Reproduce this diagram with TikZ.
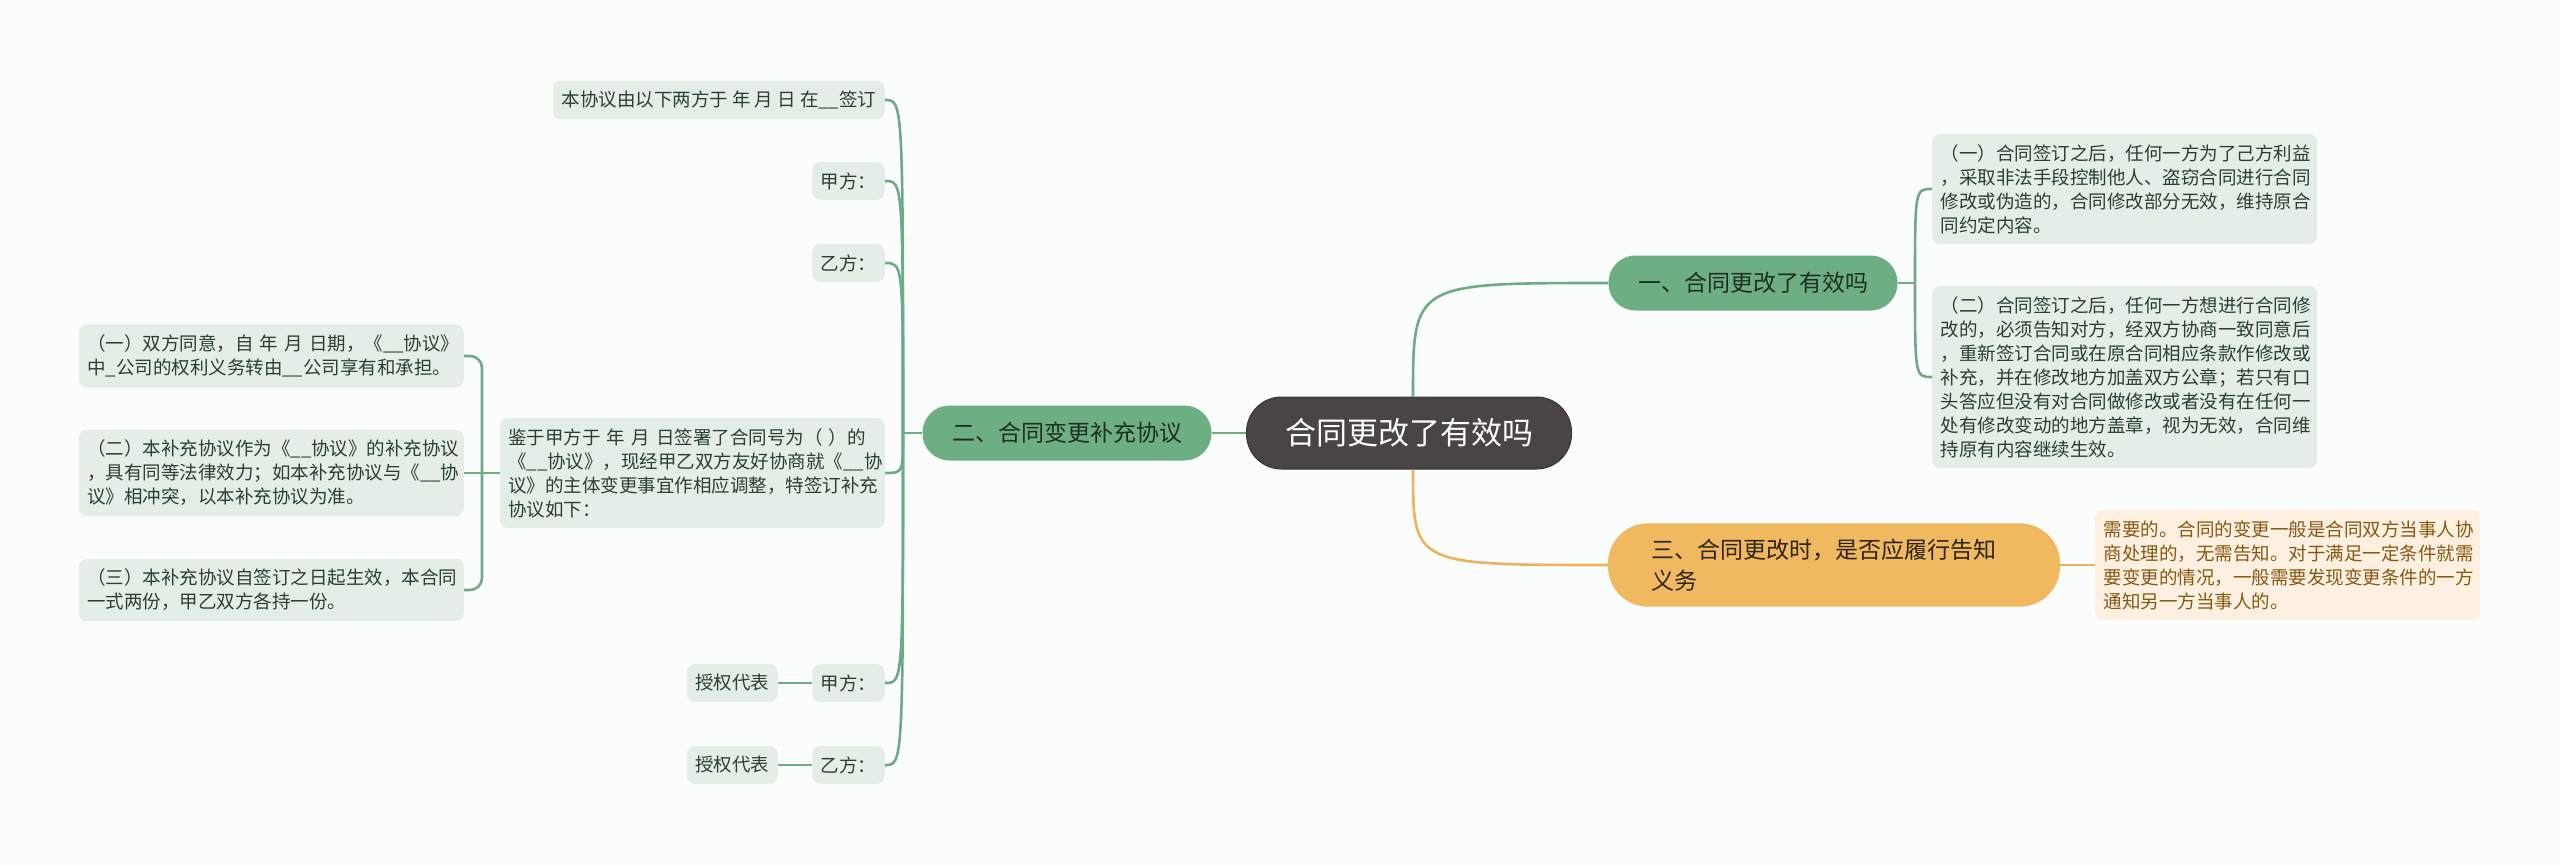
\documentclass[tikz,border=0pt]{standalone}
\usepackage{fontspec}
\setmainfont{Noto Sans CJK SC}
\usetikzlibrary{calc}
\definecolor{bg}{HTML}{FBFDFD}
\definecolor{glinec}{HTML}{6EAA84}
\definecolor{gfill}{HTML}{6DAE83}
\definecolor{leaf}{HTML}{E4EEE7}
\definecolor{leaftext}{HTML}{2A3F30}
\definecolor{rootfill}{HTML}{4A4544}
\definecolor{rootdraw}{HTML}{3A3534}
\definecolor{ofill}{HTML}{F0B95F}
\definecolor{olinec}{HTML}{EBB35B}
\definecolor{oleaf}{HTML}{FDF0E1}
\definecolor{oleaftext}{HTML}{875812}
\definecolor{btext}{HTML}{1E2E23}
\definecolor{obtext}{HTML}{2B2416}
\tikzset{
  leafbox/.style={fill=leaf, text=leaftext, rounded corners=8pt, inner xsep=8.5pt, inner ysep=10.3pt, font=\fontsize{18.5}{24}\selectfont, align=left},
  wideleaf/.style={leafbox, text width=368pt},
  oleafbox/.style={fill=oleaf, text=oleaftext, rounded corners=8pt, inner xsep=8.5pt, inner ysep=10.3pt, font=\fontsize{18.5}{24}\selectfont, align=left, text width=368pt},
  rootbox/.style={fill=rootfill, draw=rootdraw, line width=1pt, text=white, rounded corners=35pt, minimum width=325pt, minimum height=72pt, inner sep=0pt, font=\fontsize{31}{36}\selectfont},
  gbranch/.style={fill=gfill, text=btext, rounded corners=27pt, minimum width=289pt, minimum height=55pt, inner sep=0pt, font=\fontsize{23}{30}\selectfont},
  obranch/.style={fill=ofill, text=obtext, rounded corners=40pt, text width=366pt, inner xsep=43pt, inner ysep=15.5pt, align=left, font=\fontsize{23}{31}\selectfont},
  gl/.style={draw=glinec, line width=2.6pt},
  ol/.style={draw=olinec, line width=2.6pt},
}
\begin{document}
\begin{tikzpicture}[x=1pt, y=-1pt]
\path[fill=bg] (0,0) rectangle (2560,865);

% root and branches
\node[rootbox] (root) at (1409,433) {合同更改了有效吗};
\node[gbranch] (b1) at (1753,283) {一、合同更改了有效吗};
\node[gbranch] (b2) at (1067,433) {二、合同变更补充协议};
\node[obranch] (b3) at (1834,565) {三、合同更改时，是否应履行告知\\义务};

% branch 1 children
\node[wideleaf, anchor=west] (c1a) at (1932,189) {（一）合同签订之后，任何一方为了己方利益\\，采取非法手段控制他人、盗窃合同进行合同\\修改或伪造的，合同修改部分无效，维持原合\\同约定内容。};
\node[wideleaf, anchor=west] (c1b) at (1932,377) {（二）合同签订之后，任何一方想进行合同修\\改的，必须告知对方，经双方协商一致同意后\\，重新签订合同或在原合同相应条款作修改或\\补充，并在修改地方加盖双方公章；若只有口\\头答应但没有对合同做修改或者没有在任何一\\处有修改变动的地方盖章，视为无效，合同维\\持原有内容继续生效。};

% branch 3 child
\node[oleafbox, anchor=west] (o1) at (2095,565) {需要的。合同的变更一般是合同双方当事人协\\商处理的，无需告知。对于满足一定条件就需\\要变更的情况，一般需要发现变更条件的一方\\通知另一方当事人的。};

% branch 2 children
\node[leafbox, anchor=east] (s1) at (885,100) {本协议由以下两方于 年 月 日 在\_\_签订};
\node[leafbox, anchor=east] (s2) at (885,181) {甲方：};
\node[leafbox, anchor=east] (s3) at (885,263) {乙方：};
\node[wideleaf, anchor=east] (s4) at (885,473) {鉴于甲方于~年~月~日签署了合同号为（~）的\\《\_\_协议》，现经甲乙双方友好协商就《\_\_协\\议》的主体变更事宜作相应调整，特签订补充\\协议如下：};
\node[leafbox, anchor=east] (s5) at (885,683) {甲方：};
\node[leafbox, anchor=east] (s6) at (885,765) {乙方：};
\node[leafbox, anchor=east] (r5) at (778,683) {授权代表};
\node[leafbox, anchor=east] (r6) at (778,765) {授权代表};

% s4 children
\node[wideleaf, anchor=east] (g1) at (464,356) {（一）双方同意，自~年~月~日期，《\_\_协议》\\中\_公司的权利义务转由\_\_公司享有和承担。};
\node[wideleaf, anchor=east] (g2) at (464,473) {（二）本补充协议作为《\_\_协议》的补充协议\\，具有同等法律效力；如本补充协议与《\_\_协\\议》相冲突，以本补充协议为准。};
\node[wideleaf, anchor=east] (g3) at (464,590) {（三）本补充协议自签订之日起生效，本合同\\一式两份，甲乙双方各持一份。};

% connectors
\draw[gl] (root.west) -- (b2.east);
\draw[gl] ([xshift=4pt]root.north) .. controls ([xshift=4pt]root.north |- b1.west) .. (b1.west);
\draw[ol] ([xshift=4pt]root.south) .. controls ([xshift=4pt]root.south |- b3.west) .. (b3.west);
\draw[ol] (b3.east) -- (o1.west);

\coordinate (j1) at (1915,283);
\draw[gl] (b1.east) -- (j1);
\draw[gl] (j1) .. controls (j1 |- c1a.west) .. (c1a.west);
\draw[gl] (j1) .. controls (j1 |- c1b.west) .. (c1b.west);

\coordinate (j2) at (903,433);
\draw[gl] (b2.west) -- (j2);
\foreach \n in {s1,s2,s3,s4,s5,s6} {
  \draw[gl] (j2) .. controls (j2 |- \n.east) .. (\n.east);
}
\draw[gl] (r5.east) -- (s5.west);
\draw[gl] (r6.east) -- (s6.west);

\coordinate (k) at (482,473);
\draw[gl, rounded corners=12pt] (g1.east) -- (k |- g1.east) -- (k |- g3.east) -- (g3.east);
\draw[gl] (s4.west) -- (g2.east);
\end{tikzpicture}
\end{document}
